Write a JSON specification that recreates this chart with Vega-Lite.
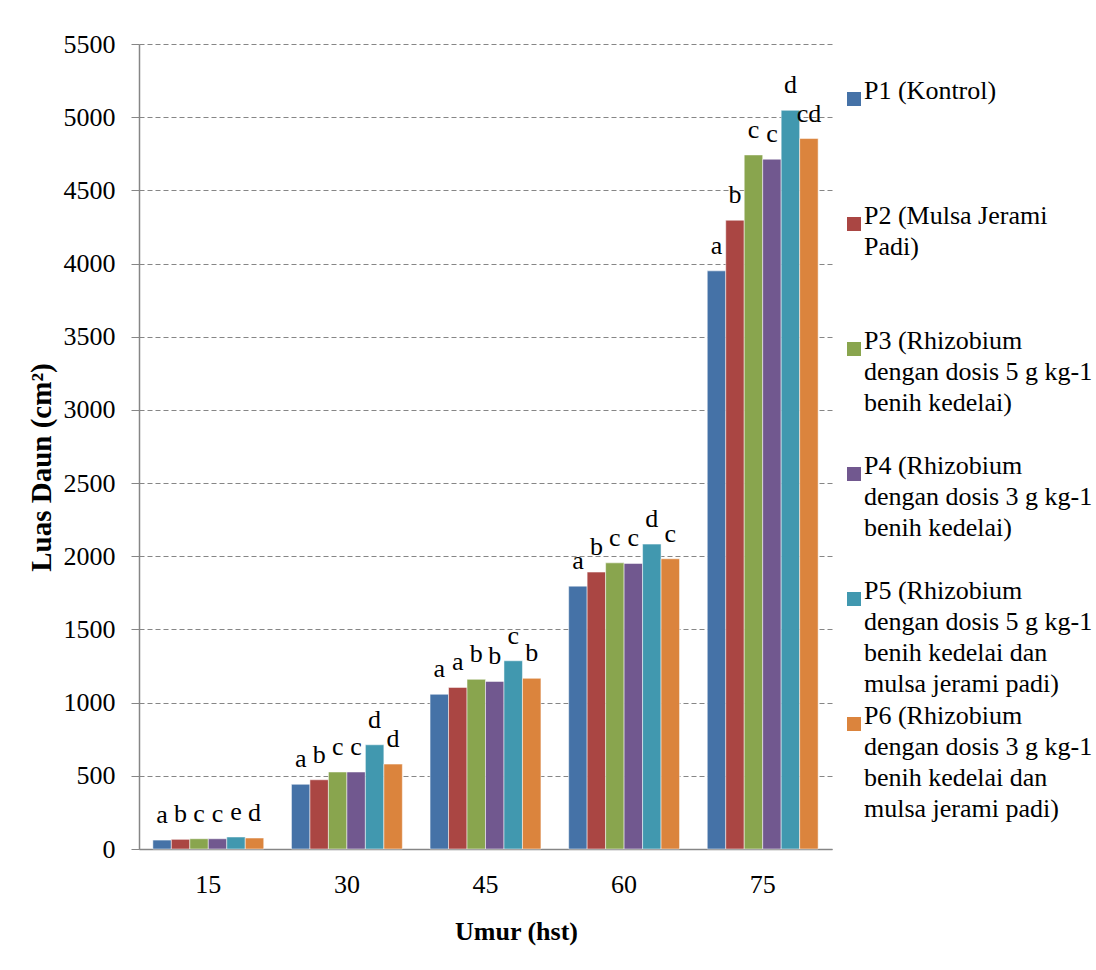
{
  "$schema": "https://vega.github.io/schema/vega-lite/v6.json",
  "autosize": {"type": "none"},
  "padding": {"left": 139, "top": 44, "right": 264, "bottom": 121},
  "width": 693,
  "height": 805,
  "background": "#ffffff",
  "config": {
    "view": {"stroke": null},
    "font": "Liberation Serif",
    "style": {"guide-label": {"lineHeight": 31}}
  },
  "data": {
    "values": [
      {"umur": "15", "perlakuan": "P1", "luas": 61, "notasi": "a"},
      {"umur": "15", "perlakuan": "P2", "luas": 66, "notasi": "b"},
      {"umur": "15", "perlakuan": "P3", "luas": 70, "notasi": "c"},
      {"umur": "15", "perlakuan": "P4", "luas": 70, "notasi": "c"},
      {"umur": "15", "perlakuan": "P5", "luas": 82, "notasi": "e"},
      {"umur": "15", "perlakuan": "P6", "luas": 75, "notasi": "d"},
      {"umur": "30", "perlakuan": "P1", "luas": 442, "notasi": "a"},
      {"umur": "30", "perlakuan": "P2", "luas": 473, "notasi": "b"},
      {"umur": "30", "perlakuan": "P3", "luas": 526, "notasi": "c"},
      {"umur": "30", "perlakuan": "P4", "luas": 526, "notasi": "c"},
      {"umur": "30", "perlakuan": "P5", "luas": 712, "notasi": "d"},
      {"umur": "30", "perlakuan": "P6", "luas": 580, "notasi": "d"},
      {"umur": "45", "perlakuan": "P1", "luas": 1057, "notasi": "a"},
      {"umur": "45", "perlakuan": "P2", "luas": 1104, "notasi": "a"},
      {"umur": "45", "perlakuan": "P3", "luas": 1159, "notasi": "b"},
      {"umur": "45", "perlakuan": "P4", "luas": 1145, "notasi": "b"},
      {"umur": "45", "perlakuan": "P5", "luas": 1286, "notasi": "c"},
      {"umur": "45", "perlakuan": "P6", "luas": 1166, "notasi": "b"},
      {"umur": "60", "perlakuan": "P1", "luas": 1796, "notasi": "a"},
      {"umur": "60", "perlakuan": "P2", "luas": 1892, "notasi": "b"},
      {"umur": "60", "perlakuan": "P3", "luas": 1955, "notasi": "c"},
      {"umur": "60", "perlakuan": "P4", "luas": 1951, "notasi": "c"},
      {"umur": "60", "perlakuan": "P5", "luas": 2083, "notasi": "d"},
      {"umur": "60", "perlakuan": "P6", "luas": 1983, "notasi": "c"},
      {"umur": "75", "perlakuan": "P1", "luas": 3950, "notasi": "a"},
      {"umur": "75", "perlakuan": "P2", "luas": 4296, "notasi": "b"},
      {"umur": "75", "perlakuan": "P3", "luas": 4742, "notasi": "c"},
      {"umur": "75", "perlakuan": "P4", "luas": 4713, "notasi": "c"},
      {"umur": "75", "perlakuan": "P5", "luas": 5047, "notasi": "d"},
      {"umur": "75", "perlakuan": "P6", "luas": 4854, "notasi": "cd"}
    ]
  },
  "encoding": {
    "x": {
      "field": "umur",
      "type": "ordinal",
      "sort": ["15", "30", "45", "60", "75"],
      "scale": {"paddingInner": 0.2, "paddingOuter": 0.1},
      "axis": {
        "title": "Umur (hst)",
        "titleFont": "Liberation Serif",
        "titleFontSize": 26,
        "titleFontWeight": "bold",
        "titleColor": "#000000",
        "titleX": 377,
        "titleY": 90,
        "titleBaseline": "alphabetic",
        "labelAngle": 0,
        "labelFont": "Liberation Serif",
        "labelFontSize": 26,
        "labelColor": "#000000",
        "labelPadding": 22,
        "ticks": false,
        "domainColor": "#868686",
        "domainWidth": 1.5,
        "grid": false
      }
    },
    "xOffset": {"field": "perlakuan", "type": "nominal", "sort": ["P1", "P2", "P3", "P4", "P5", "P6"]},
    "y": {
      "field": "luas",
      "type": "quantitative",
      "scale": {"domain": [0, 5500], "nice": false},
      "axis": {
        "title": "Luas Daun (cm²)",
        "titleFont": "Liberation Serif",
        "titleFontSize": 29,
        "titleFontWeight": "bold",
        "titleColor": "#000000",
        "titleX": -89,
        "titleY": 423,
        "titleBaseline": "alphabetic",
        "values": [0, 500, 1000, 1500, 2000, 2500, 3000, 3500, 4000, 4500, 5000, 5500],
        "format": "d",
        "labelFont": "Liberation Serif",
        "labelFontSize": 26,
        "labelColor": "#000000",
        "labelPadding": 16,
        "tickSize": 8,
        "tickColor": "#868686",
        "domainColor": "#868686",
        "domainWidth": 1.5,
        "gridColor": "#868686",
        "gridDash": [5, 3],
        "gridWidth": 1.2
      }
    }
  },
  "layer": [
    {
      "mark": {"type": "bar", "stroke": "#ffffff", "strokeWidth": 1, "strokeOpacity": 0.5},
      "encoding": {
        "color": {
          "field": "perlakuan",
          "type": "nominal",
          "scale": {
            "domain": ["P1", "P2", "P3", "P4", "P5", "P6"],
            "range": ["#4572A7", "#AA4643", "#89A54E", "#71588F", "#4198AF", "#DB843D"]
          },
          "legend": {
            "title": null,
            "orient": "none",
            "legendX": 702,
            "legendY": 42,
            "padding": 0,
            "symbolType": "square",
            "symbolSize": 196,
            "symbolStrokeWidth": 0,
            "symbolOpacity": 1,
            "labelFont": "Liberation Serif",
            "labelFontSize": 26,
            "labelColor": "#000000",
            "labelLimit": 600,
            "labelOffset": -3,
            "labelBaseline": "alphabetic",
            "rowPadding": 6,
            "labelExpr": "datum.value == 'P1' ? ['P1 (Kontrol)', '', '', ''] : datum.value == 'P2' ? ['P2 (Mulsa Jerami', 'Padi)', '', ''] : datum.value == 'P3' ? ['P3 (Rhizobium', 'dengan dosis 5 g kg-1', 'benih kedelai)', ''] : datum.value == 'P4' ? ['P4 (Rhizobium', 'dengan dosis 3 g kg-1', 'benih kedelai)', ''] : datum.value == 'P5' ? ['P5 (Rhizobium', 'dengan dosis 5 g kg-1', 'benih kedelai dan', 'mulsa jerami padi)'] : ['P6 (Rhizobium', 'dengan dosis 3 g kg-1', 'benih kedelai dan', 'mulsa jerami padi)']",
            "encode": {"labels": {"update": {"dy": {"value": 9}, "lineHeight": {"value": 31}}}}
          }
        }
      }
    },
    {
      "mark": {"type": "text", "baseline": "alphabetic", "align": "center", "dy": -17, "fontSize": 26, "font": "Liberation Serif", "color": "#000000"},
      "encoding": {
        "text": {"field": "notasi", "type": "nominal"}
      }
    }
  ]
}
